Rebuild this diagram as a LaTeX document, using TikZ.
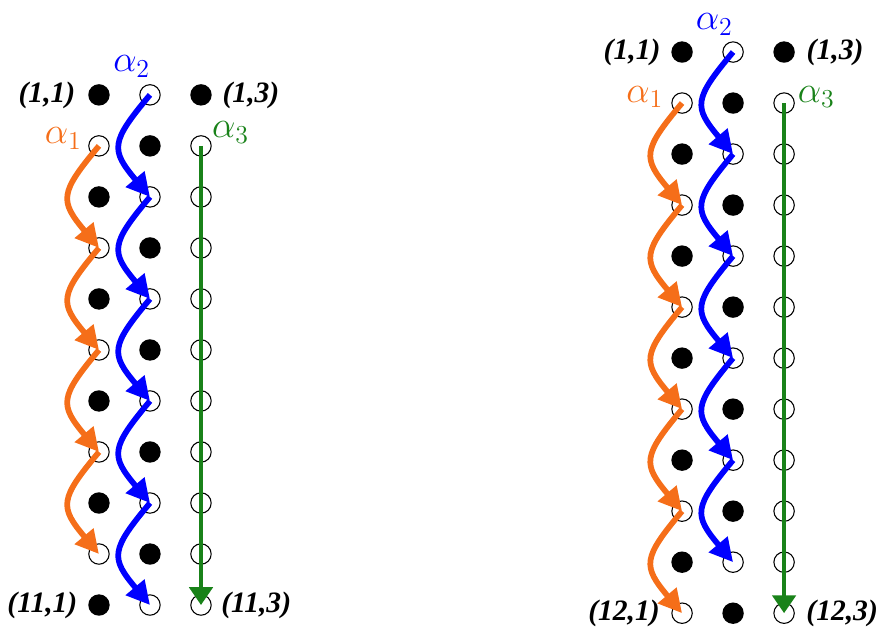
\documentclass[tikz,border=0pt]{standalone}
\usepackage{fontspec}
\setmainfont{Liberation Serif}
\usepackage{tikz}
\usetikzlibrary{arrows.meta}
\usetikzlibrary{positioning}
\definecolor{aorange}{RGB}{245,110,25}
\definecolor{ablue}{RGB}{0,0,255}
\definecolor{agreen}{RGB}{25,130,25}

\tikzset{
  full/.style={circle,fill=black,inner sep=0pt,minimum size=0.42cm},
  hollow/.style={circle,draw=black,line width=0.6pt,inner sep=0pt,minimum size=0.40cm},
  coordlbl/.style={font=\fontsize{16.5}{18}\selectfont\bfseries\itshape,inner sep=0pt},
  alphalbl/.style={font=\fontsize{21}{24}\selectfont,inner sep=0pt},
  hop/.style={line width=3.2pt,-{Triangle[length=13pt,width=13pt]},out=-130,in=130,looseness=1.55},
  straight/.style={line width=2.3pt,-{Triangle[length=10pt,width=13pt]}}
}

\begin{document}
\begin{tikzpicture}
\useasboundingbox (0,0) rectangle (17.27,-12.41);

% left lattice, 11 rows
\foreach \r in {1,...,11}
  \foreach \c in {1,2,3}{
    \pgfmathtruncatemacro\isfull{(\c==1 && isodd(\r)) || (\c==2 && iseven(\r)) || (\c==3 && \r==1)}
    \ifnum\isfull=1
      \node[full] (L-\r-\c) at (0.94+\c,-0.86-\r) {};
    \else
      \node[hollow] (L-\r-\c) at (0.94+\c,-0.86-\r) {};
    \fi
  }

% right lattice, 12 rows
\foreach \r in {1,...,12}
  \foreach \c in {1,2,3}{
    \pgfmathtruncatemacro\isfull{(\c==1 && isodd(\r)) || (\c==2 && iseven(\r)) || (\c==3 && \r==1)}
    \ifnum\isfull=1
      \node[full] (R-\r-\c) at (12.37+\c,-0.02-\r) {};
    \else
      \node[hollow] (R-\r-\c) at (12.37+\c,-0.02-\r) {};
    \fi
  }

\foreach \a/\b in {2/4,4/6,6/8,8/10}
  \draw[hop,aorange] (L-\a-1.center) to (L-\b-1.center);
\foreach \a/\b in {1/3,3/5,5/7,7/9,9/11}
  \draw[hop,ablue] (L-\a-2.center) to (L-\b-2.center);
\draw[straight,agreen] (L-2-3.center) -- (L-11-3.center);

\foreach \a/\b in {2/4,4/6,6/8,8/10,10/12}
  \draw[hop,aorange] (R-\a-1.center) to (R-\b-1.center);
\foreach \a/\b in {1/3,3/5,5/7,7/9,9/11}
  \draw[hop,ablue] (R-\a-2.center) to (R-\b-2.center);
\draw[straight,agreen] (R-2-3.center) -- (R-12-3.center);

\node[coordlbl,left=0.24cm of L-1-1] (L-tl) {(1,1)};
\node[coordlbl,right=0.2cm of L-1-3] (L-tr) {(1,3)};
\node[coordlbl,left=0.2cm of L-11-1] (L-bl) {(11,1)};
\node[coordlbl,right=0.18cm of L-11-3] (L-br) {(11,3)};
\node[coordlbl,left=0.2cm of R-1-1] (R-tl) {(1,1)};
\node[coordlbl,right=0.22cm of R-1-3] (R-tr) {(1,3)};
\node[coordlbl,left=0.22cm of R-12-1] (R-bl) {(12,1)};
\node[coordlbl,right=0.22cm of R-12-3] (R-br) {(12,3)};

\node[alphalbl,aorange] (L-a1) at ([shift={(-0.70,0.14)}]L-2-1) {$\alpha_1$};
\node[alphalbl,ablue] (L-a2) at ([shift={(-0.36,0.56)}]L-1-2) {$\alpha_2$};
\node[alphalbl,agreen] (L-a3) at ([shift={(0.58,0.26)}]L-2-3) {$\alpha_3$};
\node[alphalbl,aorange] (R-a1) at ([shift={(-0.73,0.12)}]R-2-1) {$\alpha_1$};
\node[alphalbl,ablue] (R-a2) at ([shift={(-0.37,0.54)}]R-1-2) {$\alpha_2$};
\node[alphalbl,agreen] (R-a3) at ([shift={(0.63,0.12)}]R-2-3) {$\alpha_3$};
\end{tikzpicture}
\end{document}
